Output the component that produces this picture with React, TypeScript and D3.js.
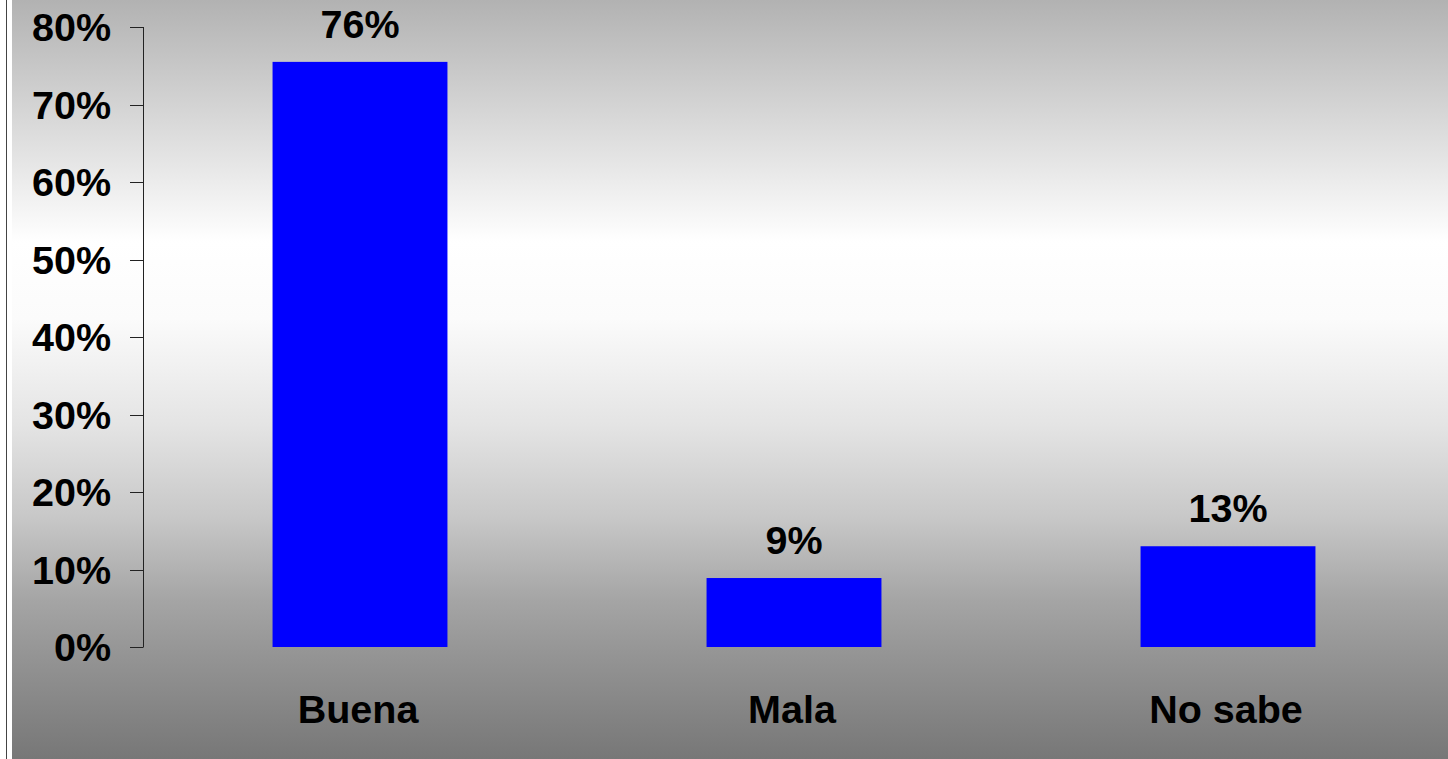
import React from "react";
import * as d3 from "d3";

const categories = ["Buena", "Mala", "No sabe"];
const values = [75.5, 8.9, 13.0];
const yTicks = [0, 10, 20, 30, 40, 50, 60, 70, 80];

const W = 1448;
const H = 759;

export default function App() {
  const x = d3.scaleBand<string>().domain(categories).range([143, 1445]).padding(0);
  const y = d3.scaleLinear().domain([0, 80]).range([647, 27]);
  const barW = x.bandwidth() * 0.403;
  const font = "'Liberation Sans', Arial, sans-serif";
  const fs = 39.5;
  return (
    <svg
      width={W}
      height={H}
      style={{ position: "fixed", left: 0, top: 0, display: "block" }}
    >
      <defs>
        <linearGradient id="bg" x1="0" y1="0" x2="0" y2="1">
          <stop offset="0" stopColor="#b2b2b2" />
          <stop offset="0.32" stopColor="#ffffff" />
          <stop offset="0.42" stopColor="#fbfbfb" />
          <stop offset="0.56" stopColor="#e4e4e4" />
          <stop offset="0.68" stopColor="#c8c8c8" />
          <stop offset="0.79" stopColor="#a5a5a5" />
          <stop offset="0.86" stopColor="#959595" />
          <stop offset="1" stopColor="#777777" />
        </linearGradient>
      </defs>
      <rect x={0} y={0} width={W} height={H} fill="#ffffff" />
      <line x1={6.5} x2={6.5} y1={0} y2={H} stroke="#444" strokeWidth={1} />
      <rect x={12} y={0} width={W - 12} height={H} fill="url(#bg)" />
      <line x1={143.5} x2={143.5} y1={y(80)} y2={y(0)} stroke="#222" strokeWidth={1} />
      {yTicks.map((t) => (
        <g key={t}>
          <line x1={130} x2={143.5} y1={Math.round(y(t)) + 0.5} y2={Math.round(y(t)) + 0.5} stroke="#222" strokeWidth={1} />
          <text
            x={111}
            y={y(t) + 14}
            textAnchor="end"
            fontFamily={font}
            fontWeight="bold"
            fontSize={fs}
            fill="#000"
          >
            {t}%
          </text>
        </g>
      ))}
      {categories.map((c, i) => {
        const cx = (x(c) as number) + x.bandwidth() / 2;
        return (
          <g key={c}>
            <rect
              x={cx - barW / 2}
              y={y(values[i])}
              width={barW}
              height={y(0) - y(values[i])}
              fill="#0000ff"
            />
            <text
              x={cx}
              y={y(values[i]) - 24}
              textAnchor="middle"
              fontFamily={font}
              fontWeight="bold"
              fontSize={fs}
              fill="#000"
            >
              {Math.round(values[i])}%
            </text>
            <text
              x={cx - 2}
              y={723}
              textAnchor="middle"
              fontFamily={font}
              fontWeight="bold"
              fontSize={fs}
              fill="#000"
            >
              {c}
            </text>
          </g>
        );
      })}
    </svg>
  );
}
